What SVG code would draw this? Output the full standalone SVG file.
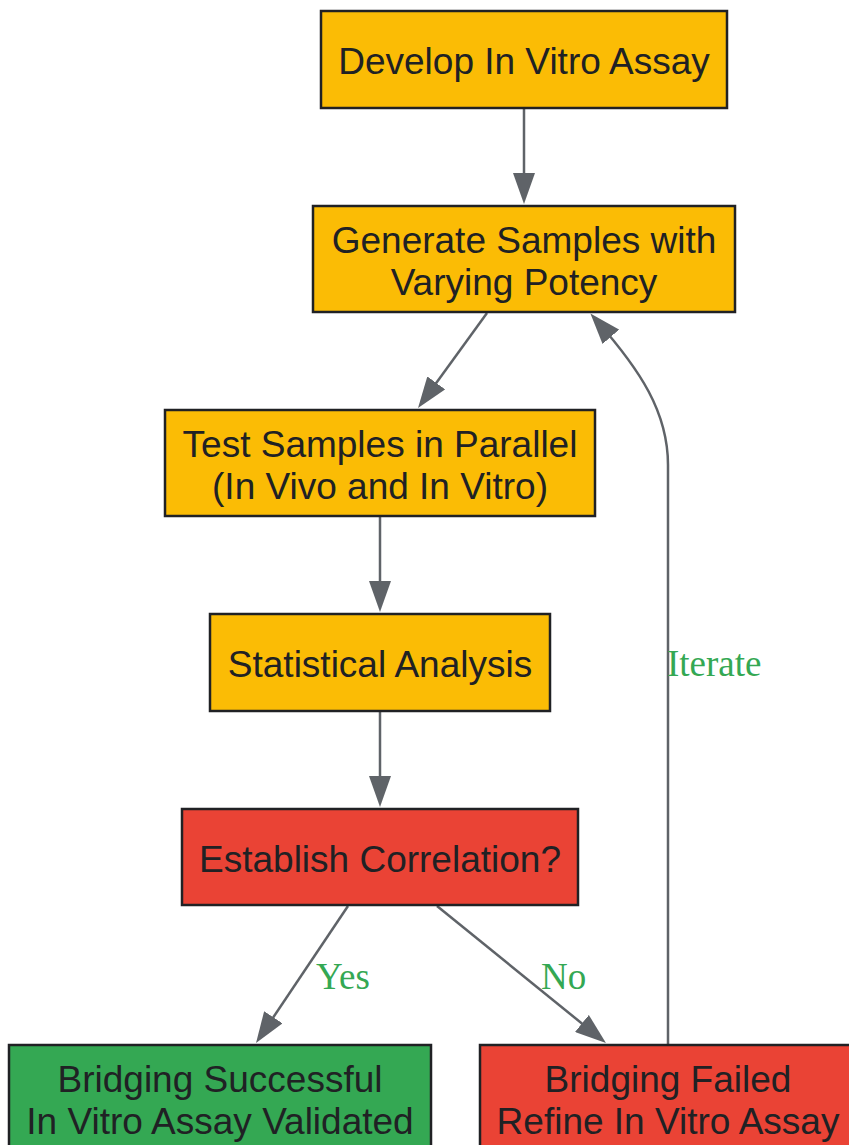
<svg xmlns="http://www.w3.org/2000/svg" width="849" height="1145" viewBox="0 0 849 1145">
<defs>
<style>
.node rect{stroke:#202124;stroke-width:2.5}
.y rect{fill:#FBBC05}
.r rect{fill:#EA4335}
.g rect{fill:#34A853}
.node text{font-family:"Liberation Sans",Arial,sans-serif;font-size:37px;fill:#202124;text-anchor:middle}
.edge{fill:none;stroke:#5F6368;stroke-width:2.5;marker-end:url(#arr)}
.lbl{font-family:"Liberation Serif","Times New Roman",serif;font-size:37px;fill:#34A853}
</style>
<marker id="arr" viewBox="0 0 31 22" refX="21" refY="11" markerWidth="31" markerHeight="22" markerUnits="userSpaceOnUse" orient="auto">
<path d="M0,0 L31,11 L0,22 z" fill="#5F6368"/>
</marker>
</defs>
<rect width="849" height="1145" fill="#ffffff"/>
<g id="connectors">
<path class="edge" d="M524,108 L524,194"/>
<path class="edge" d="M487,313 L423.9,399.9"/>
<path class="edge" d="M380,516 L380,602"/>
<path class="edge" d="M380,711 L380,797"/>
<path class="edge" d="M348,906 L261.6,1034.7"/>
<path class="edge" d="M437,906 L598.2,1036.7"/>
<path class="edge" d="M668,1045 L668,465 C668,412 640,370 597,321"/>
<text class="lbl" x="316" y="989">Yes</text>
<text class="lbl" x="541" y="989">No</text>
<text class="lbl" x="667" y="676">Iterate</text>
</g>
<g id="n1" class="node y"><rect x="321" y="11" width="406" height="97"/><text x="524" y="74">Develop In Vitro Assay</text></g>
<g id="n2" class="node y"><rect x="313" y="206" width="422" height="106"/><text x="524" y="253">Generate Samples with</text><text x="524" y="295">Varying Potency</text></g>
<g id="n3" class="node y"><rect x="165" y="410" width="430" height="106"/><text x="380" y="457">Test Samples in Parallel</text><text x="380" y="499">(In Vivo and In Vitro)</text></g>
<g id="n4" class="node y"><rect x="210" y="614" width="340" height="97"/><text x="380" y="677">Statistical Analysis</text></g>
<g id="n5" class="node r"><rect x="182" y="809" width="396" height="96"/><text x="380" y="872">Establish Correlation?</text></g>
<g id="n6" class="node g"><rect x="9" y="1045" width="422" height="106"/><text x="220" y="1092">Bridging Successful</text><text x="220" y="1134">In Vitro Assay Validated</text></g>
<g id="n7" class="node r"><rect x="480" y="1045" width="376" height="106"/><text x="668" y="1092">Bridging Failed</text><text x="668" y="1134">Refine In Vitro Assay</text></g>
</svg>
